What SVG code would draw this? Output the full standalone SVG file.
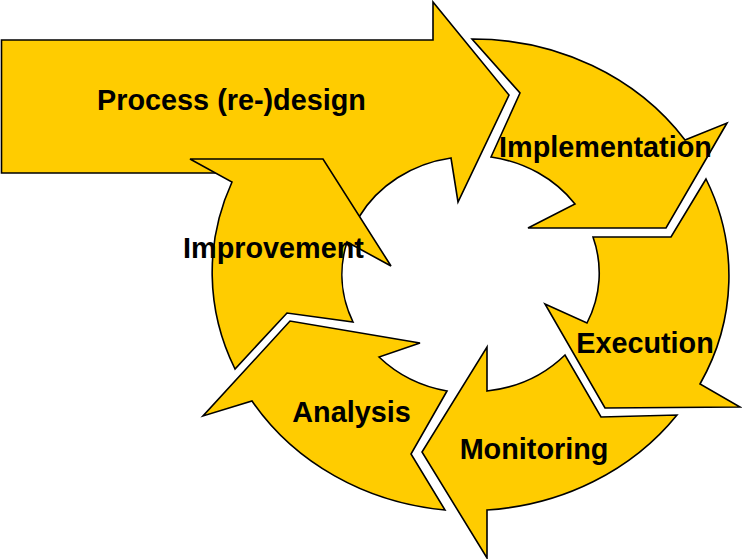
<svg xmlns="http://www.w3.org/2000/svg" width="742" height="559" viewBox="0 0 742 559">
<style>
.arrow{fill:#FFCC00;stroke:#000;stroke-width:1.6;stroke-linejoin:miter}
.lbl{font-family:"Liberation Sans",Arial,sans-serif;font-weight:bold;font-size:28.8px;fill:#000;text-anchor:middle}
</style>
<rect width="742" height="559" fill="#fff"/>
<g id="process">
<path class="arrow" d="M 1.5 40 L 433 40 L 433 2 L 509 95 L 458 202 L 451 158 A 128 117 0 0 0 359 217 L 300 190 L 230 173 L 1.5 173 Z"/>
<text class="lbl" x="231.5" y="110">Process (re-)design</text>
</g>
<g id="implementation">
<path class="arrow" d="M 472 39 A 258 235 0 0 1 685 140 L 727 123 L 666 228 L 528 228 L 575 204 A 128 117 0 0 0 491 157 L 520 93 Z"/>
<text class="lbl" x="605.5" y="157">Implementation</text>
</g>
<g id="execution">
<path class="arrow" d="M 706 179 A 258 235 0 0 1 700 384 L 740 407 L 605 408 L 545 304 L 587 323 A 128 117 0 0 0 593 237 L 671 237 Z"/>
<text class="lbl" x="645" y="353">Execution</text>
</g>
<g id="monitoring">
<path class="arrow" d="M 677 415 A 258 235 0 0 1 487 510 L 487 558 L 422 452 L 487 347 L 487 391 A 128 117 0 0 0 565 355 L 601 417 Z"/>
<text class="lbl" x="534" y="459">Monitoring</text>
</g>
<g id="analysis">
<path class="arrow" d="M 445 510 A 258 235 0 0 1 252 401 L 203 416 L 290 321 L 420 343 L 379 357 A 128 117 0 0 0 447 391 L 411 454 Z"/>
<text class="lbl" x="351.5" y="422">Analysis</text>
</g>
<g id="improvement">
<path class="arrow" d="M 235 369 A 258 235 0 0 1 232 182 L 190 159 L 323 159 L 391 266 L 347 242 A 128 117 0 0 0 353 322 L 287 313 Z"/>
<text class="lbl" x="273.5" y="258">Improvement</text>
</g>
</svg>
